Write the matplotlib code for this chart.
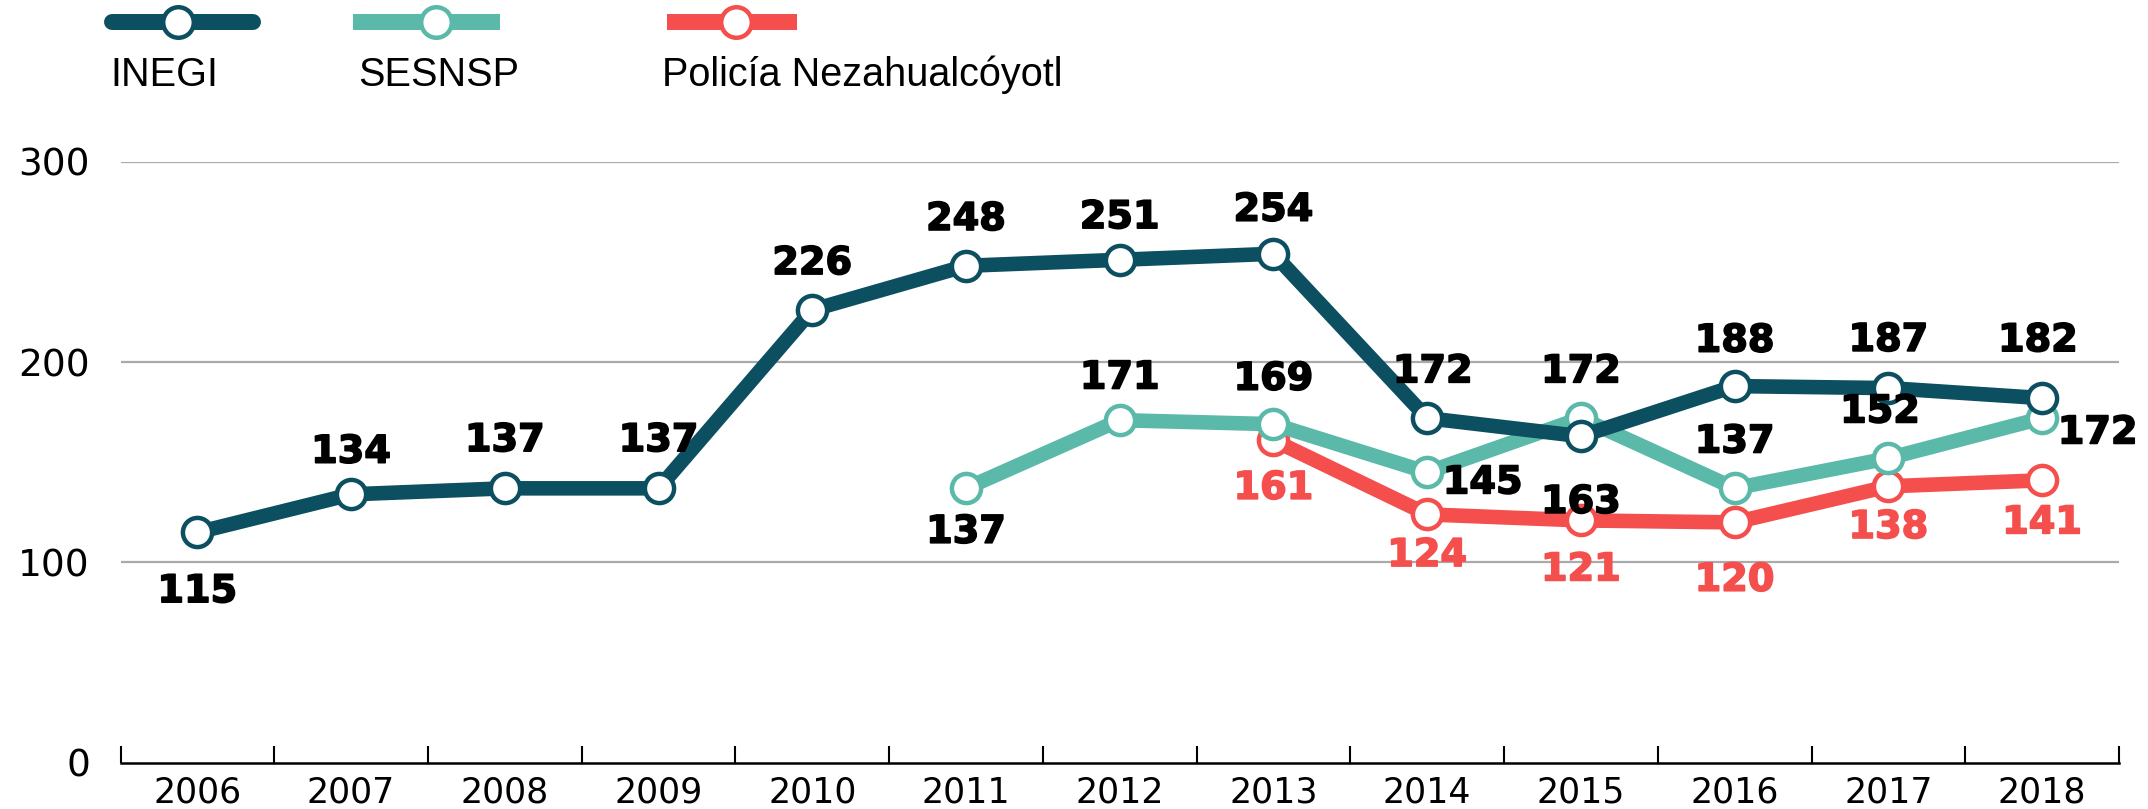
import numpy as np
import matplotlib
matplotlib.use("Agg")
import matplotlib.pyplot as plt
import matplotlib.patheffects as pe

# data
years = ["2006", "2007", "2008", "2009", "2010", "2011", "2012",
         "2013", "2014", "2015", "2016", "2017", "2018"]
inegi = [115, 134, 137, 137, 226, 248, 251, 254, 172, 163, 188, 187, 182]
sesnsp = [np.nan] * 5 + [137, 171, 169, 145, 172, 137, 152, 172]
policia = [np.nan] * 7 + [161, 124, 121, 120, 138, 141]
series_names = ["INEGI", "SESNSP", "Policía Nezahualcóyotl"]

# label offsets (points) per point, (dx, dy)
off_inegi = [(0, -43), (0, 30), (0, 34), (0, 34), (0, 33), (0, 33), (0, 30),
             (0, 31), (4, 33), (0, -48), (0, 32), (0, 34), (-3, 41)]
off_sesnsp = [None] * 5 + [(0, -32), (0, 30), (0, 32), (40, -8), (0, 33),
                           (0, 33), (-6, 33), (40, -11)]
off_policia = [None] * 7 + [(0, -35), (0, -30), (0, -36), (0, -42), (0, -30), (0, -31)]

C_INEGI, C_SES, C_POL = "#0b4f60", "#5ab9a9", "#f44e4d"
LBL_FONT = "DejaVu Sans"

fig = plt.figure(figsize=(21.48, 8.09), dpi=100)
ax = fig.add_axes([0.0561, 0.0569, 0.9304, 0.7434])
x = np.arange(len(years))

specs = [(policia, C_POL, off_policia, C_POL, 3),
         (sesnsp, C_SES, off_sesnsp, "black", 4),
         (inegi, C_INEGI, off_inegi, "black", 5)]
for vals, col, offs, tcol, z in specs:
    ax.plot(x, vals, color=col, lw=10.5, marker="o", ms=21, mfc="white",
            mec=col, mew=3.2, zorder=z, clip_on=False, solid_joinstyle="round")
    for xi, v, o in zip(x, vals, offs):
        if o is None or np.isnan(v):
            continue
        ax.annotate(f"{int(v)}", (xi, v), xytext=o, textcoords="offset points",
                    ha="center", va="center", fontsize=27.5, fontweight="bold",
                    color=tcol, family=LBL_FONT, zorder=6,
                    path_effects=[pe.withStroke(linewidth=1.2, foreground=tcol)])

ax.set_xlim(-0.5, len(years) - 0.5)
ax.set_ylim(0, 300)
ax.set_yticks([0, 100, 200, 300])
ax.set_yticklabels(["0", "100", "200", "300"], fontsize=27, family=LBL_FONT)
for yv in [100, 200, 300]:
    ax.axhline(yv, color="#aaaaaa", lw=1.6, zorder=1)
ax.tick_params(axis="y", length=0, pad=22)

ax.set_xticks(np.arange(-0.5, len(years)), minor=False)
ax.set_xticklabels([])
ax.set_xticks(x, minor=True)
ax.set_xticklabels(years, minor=True, fontsize=25, family=LBL_FONT)
ax.tick_params(axis="x", which="major", direction="in", length=12, width=1.5, color="black")
ax.tick_params(axis="x", which="minor", length=0, pad=9)

for s in ["top", "right", "left"]:
    ax.spines[s].set_visible(False)
ax.spines["bottom"].set_linewidth(1.8)
ax.spines["bottom"].set_color("black")

# legend drawn by hand in pixel space
lax = fig.add_axes([0, 0, 1, 1])
lax.set_xlim(0, 2148); lax.set_ylim(809, 0); lax.axis("off")
leg = [((112, 253), 178, 110, C_INEGI, "round"),
       ((353, 500), 436, 358, C_SES, "butt"),
       ((667, 797), 736, 662, C_POL, "butt")]
for name, (xs, mx, tx, col, cap) in zip(series_names, leg):
    lax.plot(xs, [22, 22], color=col, lw=11.5, solid_capstyle=cap)
    lax.plot([mx], [22], marker="o", ms=22, mfc="white", mec=col, mew=3.2)
    lax.text(tx, 75, name, fontsize=28.5, family="Liberation Sans", va="center", ha="left")

fig.savefig("out.png", dpi=100)
